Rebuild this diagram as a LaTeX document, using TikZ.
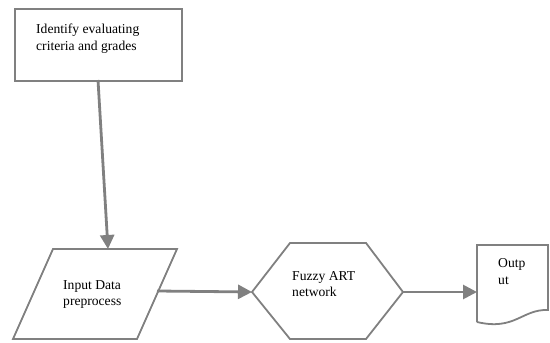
\documentclass[tikz,border=0pt]{standalone}
\usepackage{fontspec}
\setmainfont{Liberation Serif}
\usetikzlibrary{arrows.meta}
\definecolor{lg}{HTML}{808080}
\tikzset{
  shapeline/.style={draw=lg, line width=1.8pt},
  conn/.style={draw=lg, line width=2.8pt, -{Triangle[length=14pt,width=14pt]}, shorten >=0pt},
  lbl/.style={font=\fontsize{13.6}{16.5}\selectfont, align=left, inner sep=0pt, anchor=base west}
}
\begin{document}
\begin{tikzpicture}[x=1pt,y=-1pt]
\useasboundingbox (0,0) rectangle (550,343);
% rectangle
\node[shapeline, minimum width=167pt, minimum height=72pt, inner sep=0pt] (crit) at (98.5,45) {};
\node[lbl] (critA) at (36,33) {Identify evaluating};
\node[lbl] (critB) at (36,50) {criteria and grades};
% parallelogram
\coordinate (p1) at (53,249);
\coordinate (p2) at (177,249);
\coordinate (p3) at (137,339);
\coordinate (p4) at (13,339);
\draw[shapeline, line join=miter] (p1) -- (p2) -- (p3) -- (p4) -- cycle;
\node[lbl] (inA) at (63,289) {Input Data};
\node[lbl] (inB) at (63,305) {preprocess};
% hexagon
\coordinate (h1) at (252,292);
\coordinate (h2) at (290,243);
\coordinate (h3) at (366,243);
\coordinate (h4) at (403,292);
\coordinate (h5) at (366,339);
\coordinate (h6) at (290,339);
\draw[shapeline] (h1) -- (h2) -- (h3) -- (h4) -- (h5) -- (h6) -- cycle;
\node[lbl] (fzA) at (292,280) {Fuzzy ART};
\node[lbl] (fzB) at (292,296) {network};
% document
\coordinate (d1) at (477,245);
\coordinate (d2) at (548,245);
\coordinate (d3) at (548,310);
\coordinate (d4) at (477,322);
\draw[shapeline] (d4) -- (d1) -- (d2) -- (d3)
  .. controls (522,309) and (515,331) .. (d4);
\node[lbl] (outA) at (498,267) {Outp};
\node[lbl] (outB) at (498,284) {ut};
% connectors
\coordinate (c1s) at (98,80);
\coordinate (c1e) at (108,249);
\draw[conn] (c1s) -- (c1e);
\coordinate (c2s) at (157,291);
\draw[conn] (c2s) -- (h1);
\draw[conn] (h4) -- (d1 |- h4);
\end{tikzpicture}
\end{document}
